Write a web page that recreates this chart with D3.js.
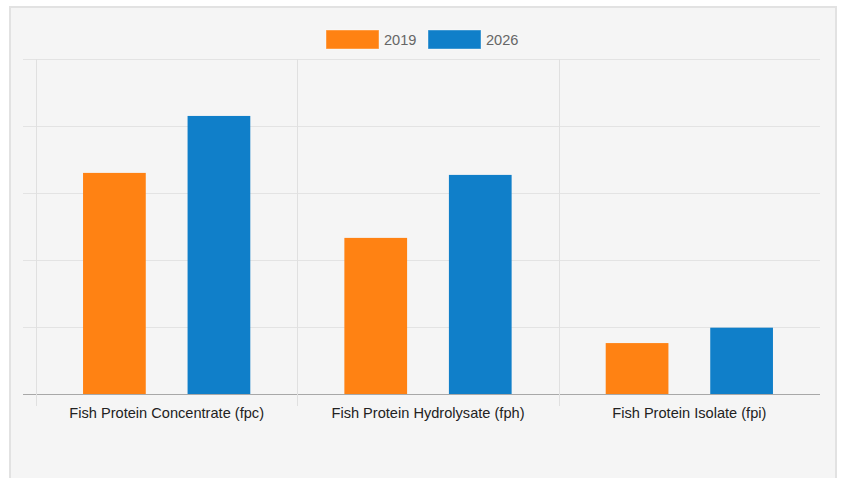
<!DOCTYPE html>
<html>
<head>
<meta charset="utf-8">
<script src="https://cdn.jsdelivr.net/npm/d3@7"></script>
<style>
  body { margin: 0; background: #fff; font-family: "Liberation Sans", Arial, sans-serif; }
</style>
</head>
<body>
<div id="chart"></div>
<script>
// Data
const categories = ["Fish Protein Concentrate (fpc)", "Fish Protein Hydrolysate (fph)", "Fish Protein Isolate (fpi)"];
const seriesNames = ["2019", "2026"];
const values2019 = [3.3, 2.33, 0.76];
const values2026 = [4.15, 3.27, 0.99];
const colors = ["#ff8213", "#107fc9"];

const rows = categories.map((c, i) => ({ cat: c, vals: [values2019[i], values2026[i]] }));

const W = 842, H = 478;
const margin = { top: 59, right: 22, bottom: 84, left: 36 };
const plotW = W - margin.left - margin.right;
const plotH = H - margin.top - margin.bottom;

const svg = d3.select("#chart").append("svg")
    .attr("width", W)
    .attr("height", H);

// card
svg.append("rect")
    .attr("x", 10).attr("y", 7)
    .attr("width", 826).attr("height", 480)
    .attr("fill", "#f5f5f5")
    .attr("stroke", "#e2e2e2")
    .attr("stroke-width", 2);

const g = svg.append("g")
    .attr("transform", `translate(${margin.left},${margin.top})`);

// scales
const x0 = d3.scaleBand().domain(categories).range([0, plotW]);
const bw = x0.bandwidth();
const x1 = d3.scaleBand().domain(seriesNames)
    .range([0.1 * bw, 0.9 * bw])
    .paddingInner(0.4)
    .paddingOuter(0.2);
const y = d3.scaleLinear().domain([0, 5]).range([plotH, 0]);

// horizontal grid
g.append("g")
    .selectAll("line")
    .data(y.ticks(5))
    .join("line")
    .attr("x1", -13).attr("x2", plotW)
    .attr("y1", d => Math.round(y(d)) + 0.5)
    .attr("y2", d => Math.round(y(d)) + 0.5)
    .attr("stroke", d => d === 0 ? "#a8a8a8" : "#e3e3e3")
    .attr("stroke-width", 1);

// vertical grid at category boundaries
g.append("g")
    .selectAll("line")
    .data(categories)
    .join("line")
    .attr("x1", d => Math.round(x0(d)) + 0.5)
    .attr("x2", d => Math.round(x0(d)) + 0.5)
    .attr("y1", 0).attr("y2", plotH + 12)
    .attr("stroke", "#e0e0e0");

// bars
g.append("g")
    .selectAll("g")
    .data(rows)
    .join("g")
    .attr("transform", d => `translate(${x0(d.cat)},0)`)
    .selectAll("rect")
    .data(d => d.vals.map((v, i) => ({ key: seriesNames[i], v, i })))
    .join("rect")
    .attr("x", d => x1(d.key))
    .attr("y", d => y(d.v))
    .attr("width", x1.bandwidth())
    .attr("height", d => plotH - y(d.v))
    .attr("fill", d => colors[d.i]);

// category labels
g.append("g")
    .selectAll("text")
    .data(categories)
    .join("text")
    .attr("x", d => x0(d) + bw / 2)
    .attr("y", plotH + 24)
    .attr("text-anchor", "middle")
    .attr("font-size", 14.6)
    .attr("fill", "#222")
    .text(d => d);

// legend
const legend = svg.append("g").attr("transform", "translate(326,30)");
const items = legend.selectAll("g")
    .data(seriesNames)
    .join("g")
    .attr("transform", (d, i) => `translate(${i * 102},0)`);
items.append("rect")
    .attr("width", 53).attr("height", 19)
    .attr("fill", (d, i) => colors[i])
    .attr("stroke", "#fff").attr("stroke-opacity", 0.4);
items.append("text")
    .attr("x", 58).attr("y", 15)
    .attr("font-size", 14.6)
    .attr("fill", "#666")
    .text(d => d);
</script>
</body>
</html>
